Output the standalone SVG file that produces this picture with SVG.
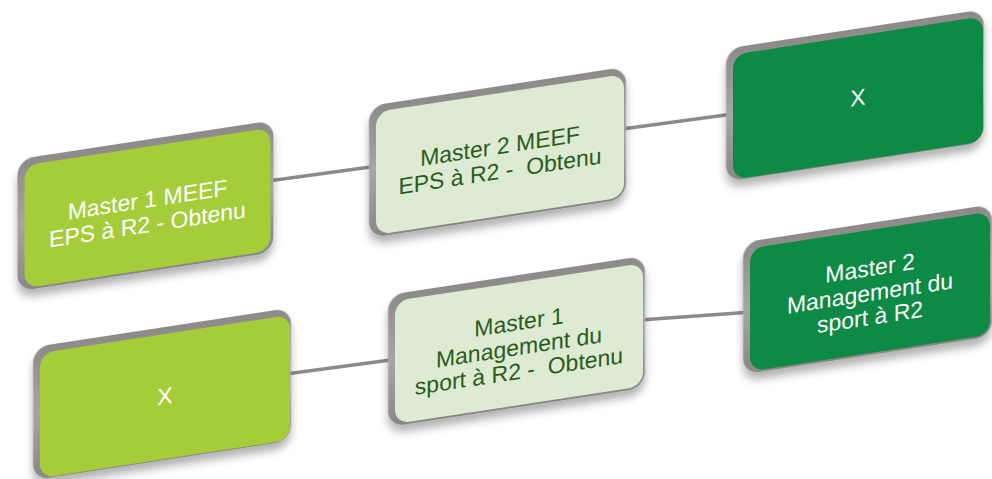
<svg xmlns="http://www.w3.org/2000/svg" width="992" height="479" viewBox="0 0 992 479">
<defs>
<linearGradient id="eg" x1="0" y1="0" x2="0" y2="1">
<stop offset="0" stop-color="#8e8a8a"/>
<stop offset="0.5" stop-color="#a9a5a5"/>
<stop offset="1" stop-color="#8a8686"/>
</linearGradient>
<filter id="sh" x="-20%" y="-20%" width="140%" height="150%">
<feDropShadow dx="0" dy="7" stdDeviation="4" flood-color="#000" flood-opacity="0.3"/>
</filter>
<style>
.edge{fill:url(#eg);filter:url(#sh)}
.lime{fill:#a5cc39}
.pale{fill:#dcebd2}
.dark{fill:#0d8a44}
text{font-family:"Liberation Sans",Arial,sans-serif;font-size:23px;text-anchor:middle;white-space:pre}
.tw{fill:#ffffff}
.td{fill:#2c5b1e}
.conn{stroke:#8c8a8a;stroke-width:3.5;fill:none;stroke-linecap:round}
</style>
</defs>
<rect width="992" height="479" fill="#ffffff"/>
<g id="connectors">
<line class="conn" x1="268" y1="181" x2="378" y2="166"/>
<line class="conn" x1="622" y1="129" x2="733" y2="114"/>
<line class="conn" x1="286" y1="374" x2="398" y2="359"/>
<line class="conn" x1="640" y1="320" x2="752" y2="312"/>
</g>
<g id="n1" transform="translate(147.5,207.5) skewY(-8.7)">
<rect class="edge" x="-130" y="-68" width="256" height="132" rx="16"/>
<rect class="lime" x="-123" y="-61" width="246" height="123" rx="14"/>
<text class="tw"><tspan x="0" y="0">Master 1 MEEF</tspan><tspan x="0" y="25">EPS à R2 - Obtenu</tspan></text>
</g>
<g id="n2" transform="translate(500,154) skewY(-8.7)">
<rect class="edge" x="-131" y="-68" width="257" height="132" rx="16"/>
<rect class="pale" x="-124" y="-61" width="248" height="123" rx="14"/>
<text class="td"><tspan x="0" y="0">Master 2 MEEF</tspan><tspan x="0" y="25">EPS à R2 -  Obtenu</tspan></text>
</g>
<g id="n3" transform="translate(858,97.5) skewY(-8.7)">
<rect class="edge" x="-132" y="-69" width="258" height="133" rx="16"/>
<rect class="dark" x="-125" y="-62" width="250" height="125" rx="14"/>
<text class="tw"><tspan x="0" y="8">X</tspan></text>
</g>
<g id="n4" transform="translate(165,396) skewY(-8.7)">
<rect class="edge" x="-132" y="-69" width="258" height="133" rx="16"/>
<rect class="lime" x="-125" y="-62" width="250" height="125" rx="14"/>
<text class="tw"><tspan x="0" y="8">X</tspan></text>
</g>
<g id="n5" transform="translate(519,343) skewY(-8.7)">
<rect class="edge" x="-131" y="-68" width="257" height="132" rx="16"/>
<rect class="pale" x="-124" y="-61" width="248" height="123" rx="14"/>
<text class="td"><tspan x="0" y="-13">Master 1</tspan><tspan x="0" y="12">Management du</tspan><tspan x="0" y="36">sport à R2 -  Obtenu</tspan></text>
</g>
<g id="n6" transform="translate(870,291) skewY(-8.7)">
<rect class="edge" x="-127" y="-68" width="249" height="132" rx="16"/>
<rect class="dark" x="-120" y="-61" width="240" height="123" rx="14"/>
<text class="tw"><tspan x="0" y="-15">Master 2</tspan><tspan x="0" y="10">Management du</tspan><tspan x="0" y="34">sport à R2</tspan></text>
</g>
</svg>
